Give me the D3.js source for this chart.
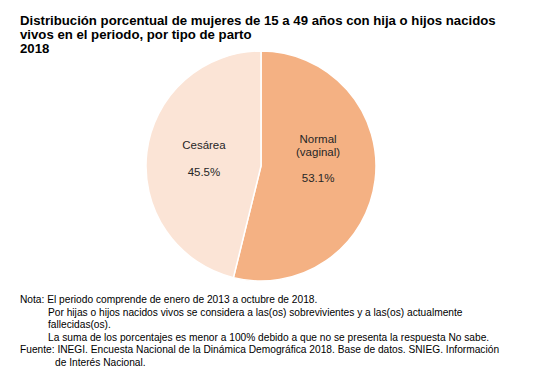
<!DOCTYPE html>
<html>
<head>
<meta charset="utf-8">
<script src="https://cdn.jsdelivr.net/npm/d3@7"></script>
<style>
  body { margin: 0; background: #fff; }
  svg { display: block; font-family: "Liberation Sans", Arial, sans-serif; }
</style>
</head>
<body>
<div id="chart"></div>
<script>
// data
var categories = ["Normal (vaginal)", "Cesárea"];
var labelLines = [["Normal", "(vaginal)"], ["Cesárea"]];
var values = [53.1, 45.5];
var colors = ["#F4B183", "#FBE4D6"];

var titleLines = [
  "Distribución porcentual de mujeres de 15 a 49 años con hija o hijos nacidos",
  "vivos en el periodo, por tipo de parto",
  "2018"
];
var noteLines = [
  {x: 20, t: "Nota: El periodo comprende de enero de 2013 a octubre de 2018."},
  {x: 48, t: "Por hijas o hijos nacidos vivos se considera a las(os) sobrevivientes y a las(os) actualmente"},
  {x: 48, t: "fallecidas(os)."},
  {x: 48, t: "La suma de los porcentajes es menor a 100% debido a que no se presenta la respuesta No sabe."},
  {x: 20, t: "Fuente: INEGI. Encuesta Nacional de la Dinámica Demográfica 2018. Base de datos. SNIEG. Información"},
  {x: 55, t: "de Interés Nacional."}
];

var width = 544, height = 376;
var cx = 261, cy = 166, radius = 115;

var svg = d3.select("#chart").append("svg")
    .attr("width", width)
    .attr("height", height);

// title
svg.append("g").selectAll("text")
    .data(titleLines)
    .enter().append("text")
    .attr("x", 20)
    .attr("y", function(d, i) { return 24.5 + i * 14.2; })
    .style("font-size", "13.2px")
    .style("font-weight", "bold")
    .attr("fill", "#000")
    .text(function(d) { return d; });

// pie
var data = values.map(function(v, i) {
  return {name: categories[i], value: v, lines: labelLines[i], color: colors[i]};
});

var pie = d3.pie()
    .sort(null)
    .value(function(d) { return d.value; });

var arc = d3.arc().innerRadius(0).outerRadius(radius);
var labelArc = d3.arc().innerRadius(radius * 0.5).outerRadius(radius * 0.5);

var g = svg.append("g")
    .attr("transform", "translate(" + cx + "," + cy + ")");

var slices = g.selectAll(".slice")
    .data(pie(data))
    .enter().append("g")
    .attr("class", "slice");

slices.append("path")
    .attr("d", arc)
    .attr("fill", function(d) { return d.data.color; })
    .attr("stroke", "#fff")
    .attr("stroke-width", 1.5);

// labels: name lines, then the percentage below, block centred a bit above the pie centre
var lineH = 13, pctGap = 26.5, midY = -3.5;
slices.each(function(d) {
  var c = labelArc.centroid(d);
  var sel = d3.select(this);
  var n = d.data.lines.length;
  var top = midY - ((n - 1) * lineH + pctGap) / 2;
  d.data.lines.forEach(function(line, i) {
    sel.append("text")
        .attr("x", c[0])
        .attr("y", top + i * lineH)
        .attr("text-anchor", "middle")
        .style("font-size", "11.5px")
        .attr("fill", "#262626")
        .text(line);
  });
  sel.append("text")
      .attr("x", c[0])
      .attr("y", top + (n - 1) * lineH + pctGap)
      .attr("text-anchor", "middle")
      .style("font-size", "11.5px")
      .attr("fill", "#262626")
      .text(d3.format(".1f")(d.data.value) + "%");
});

// notes
svg.append("g").selectAll("text")
    .data(noteLines)
    .enter().append("text")
    .attr("x", function(d) { return d.x; })
    .attr("y", function(d, i) { return 303 + i * 12.6; })
    .style("font-size", "10.2px")
    .attr("fill", "#000")
    .text(function(d) { return d.t; });
</script>
</body>
</html>
